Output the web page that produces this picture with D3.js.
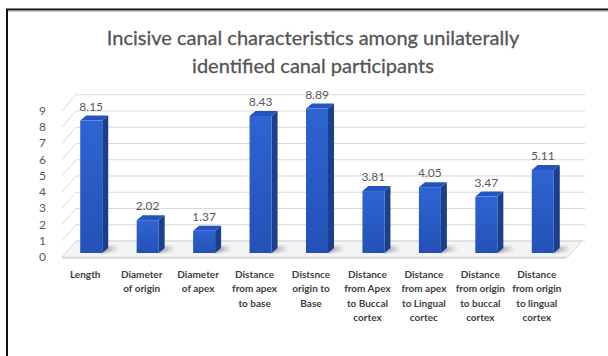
<!DOCTYPE html>
<html>
<head>
<meta charset="utf-8">
<script src="https://cdn.jsdelivr.net/npm/d3@7"></script>
<style>
  body { margin: 0; background: #fff; }
  text { font-family: Lato, "Open Sans", sans-serif; }
</style>
</head>
<body>
<div id="chart"></div>
<script>
// chart data
const categories = [
    ["Length"],
    ["Diameter", "of origin"],
    ["Diameter", "of apex"],
    ["Distance", "from apex", "to base"],
    ["Distsnce", "origin to", "Base"],
    ["Distance", "from Apex", "to Buccal", "cortex"],
    ["Distance", "from apex", "to Lingual", "cortec"],
    ["Distance", "from origin", "to buccal", "cortex"],
    ["Distance", "from origin", "to lingual", "cortex"]
];
const values = [8.15, 2.02, 1.37, 8.43, 8.89, 3.81, 4.05, 3.47, 5.11];
const yTicks = [0, 1, 2, 3, 4, 5, 6, 7, 8, 9];
const titleLines = ["Incisive canal characteristics among unilaterally", "identified canal participants"];

const width = 608, height = 356;
const depth = {dx: 14, dy: -16};      // wall depth offset
const barOff = {dx: 0, dy: -4};       // bar front face offset from floor front
const barDepth = {dx: 6, dy: -5};     // bar side / top depth

const svg = d3.select("#chart").append("svg")
    .attr("width", width)
    .attr("height", height);

const defs = svg.append("defs");
const gFront = defs.append("linearGradient").attr("id", "front").attr("x1", 0).attr("y1", 0).attr("x2", 0).attr("y2", 1);
gFront.append("stop").attr("offset", "0%").attr("stop-color", "#2e64d2");
gFront.append("stop").attr("offset", "100%").attr("stop-color", "#2351b6");
const gShadow = defs.append("linearGradient").attr("id", "shadow").attr("x1", 0).attr("y1", 0).attr("x2", 1).attr("y2", 0);
gShadow.append("stop").attr("offset", "0%").attr("stop-color", "#555").attr("stop-opacity", 0.75);
gShadow.append("stop").attr("offset", "100%").attr("stop-color", "#999").attr("stop-opacity", 0);
defs.append("filter").attr("id", "blur").append("feGaussianBlur").attr("stdDeviation", 1.2);

// outer frame (top and left edges visible)
svg.append("path")
    .attr("d", `M7,${height} L7,9.5 L${width},9.5`)
    .attr("fill", "none")
    .attr("stroke", "#111")
    .attr("stroke-width", 2);
svg.append("line")
    .attr("x1", 8).attr("x2", width).attr("y1", 11).attr("y2", 11)
    .attr("stroke", "#999").attr("stroke-width", 1);

// title
svg.append("g").selectAll("text")
    .data(titleLines)
    .join("text")
    .attr("x", 313)
    .attr("y", (d, i) => 45 + i * 28)
    .attr("text-anchor", "middle")
    .attr("font-size", 20)
    .attr("fill", "#555555")
    .attr("stroke", "#555555")
    .attr("stroke-width", 0.3)
    .text(d => d);

// scales (front plane)
const x = d3.scaleBand()
    .domain(d3.range(values.length))
    .range([63, 571])
    .paddingInner(0)
    .paddingOuter(0);
const y = d3.scaleLinear()
    .domain([0, 9])
    .range([257, 257 - 9 * 16.25]);

const x0 = 62, xBackEnd = 585;

// floor
svg.append("path")
    .attr("d", `M${x0},${y(0)} L568,${y(0)} L${568 + depth.dx},${y(0) + depth.dy} L${x0 + depth.dx},${y(0) + depth.dy} Z`)
    .attr("fill", "#f4f4f4")
    .attr("stroke", "#d9d9d9")
    .attr("stroke-width", 1);
svg.append("line")
    .attr("x1", x0).attr("x2", 566)
    .attr("y1", y(0) + 1).attr("y2", y(0) + 1)
    .attr("stroke", "#dcdcdc").attr("stroke-width", 2);

// gridlines: left wall diagonals + back wall horizontals
const grid = svg.append("g").attr("stroke", "#d9d9d9").attr("stroke-width", 1).attr("fill", "none");
grid.selectAll("path")
    .data(yTicks.filter(d => d > 0))
    .join("path")
    .attr("d", d => `M${x0},${y(d)} L${x0 + depth.dx},${y(d) + depth.dy} L${xBackEnd},${y(d) + depth.dy}`);
grid.append("line")
    .attr("x1", x0 + depth.dx).attr("x2", xBackEnd)
    .attr("y1", y(0) + depth.dy).attr("y2", y(0) + depth.dy);

// y tick labels
svg.append("g").selectAll("text")
    .data(yTicks)
    .join("text")
    .attr("x", 46)
    .attr("y", d => y(d) + 4)
    .attr("text-anchor", "end")
    .attr("font-size", 12)
    .attr("fill", "#595959")
    .text(d => d);

const bw = 22;
const bx = i => x(i) + x.bandwidth() / 2 - bw / 2 + barOff.dx;
const base = y(0) + barOff.dy;
const by = v => y(v) + barOff.dy;

// shadows
svg.append("g").selectAll("path")
    .data(values)
    .join("path")
    .attr("d", (d, i) => {
        const r = bx(i) + bw;
        return `M${r - 2},${base} L${r + 18},${base - 2} L${r + 14},${base - 8} L${r + barDepth.dx - 2},${base + barDepth.dy - 1} Z`;
    })
    .attr("fill", "url(#shadow)")
    .attr("filter", "url(#blur)");

const bars = svg.append("g").selectAll("g")
    .data(values)
    .join("g");

// side face
bars.append("path")
    .attr("d", (d, i) => {
        const r = bx(i) + bw;
        return `M${r},${by(d)} L${r + barDepth.dx},${by(d) + barDepth.dy} L${r + barDepth.dx},${base + barDepth.dy} L${r},${base} Z`;
    })
    .attr("fill", "#1c3f8c");
// top face
bars.append("path")
    .attr("d", (d, i) => {
        const l = bx(i);
        return `M${l},${by(d)} L${l + barDepth.dx},${by(d) + barDepth.dy} L${l + bw + barDepth.dx},${by(d) + barDepth.dy} L${l + bw},${by(d)} Z`;
    })
    .attr("fill", "#2454bf");
// front face
bars.append("rect")
    .attr("x", (d, i) => bx(i))
    .attr("y", d => by(d))
    .attr("width", bw)
    .attr("height", d => base - by(d))
    .attr("fill", "url(#front)");

// data labels
svg.append("g").selectAll("text")
    .data(values)
    .join("text")
    .attr("x", (d, i) => bx(i) + bw / 2)
    .attr("y", d => by(d) + barDepth.dy - 5)
    .attr("text-anchor", "middle")
    .attr("font-size", 12)
    .attr("fill", "#595959")
    .text(d => d.toFixed(2));

// category labels
const cat = svg.append("g").selectAll("text")
    .data(categories)
    .join("text")
    .attr("x", (d, i) => x(i) + x.bandwidth() / 2 - 6)
    .attr("y", 278)
    .attr("text-anchor", "middle")
    .attr("font-size", 10)
    .attr("font-weight", "bold")
    .attr("fill", "#404040");
cat.selectAll("tspan")
    .data(d => d)
    .join("tspan")
    .attr("x", function() { return d3.select(this.parentNode).attr("x"); })
    .attr("dy", (d, i) => i === 0 ? 0 : 14.4)
    .text(d => d);
</script>
</body>
</html>
